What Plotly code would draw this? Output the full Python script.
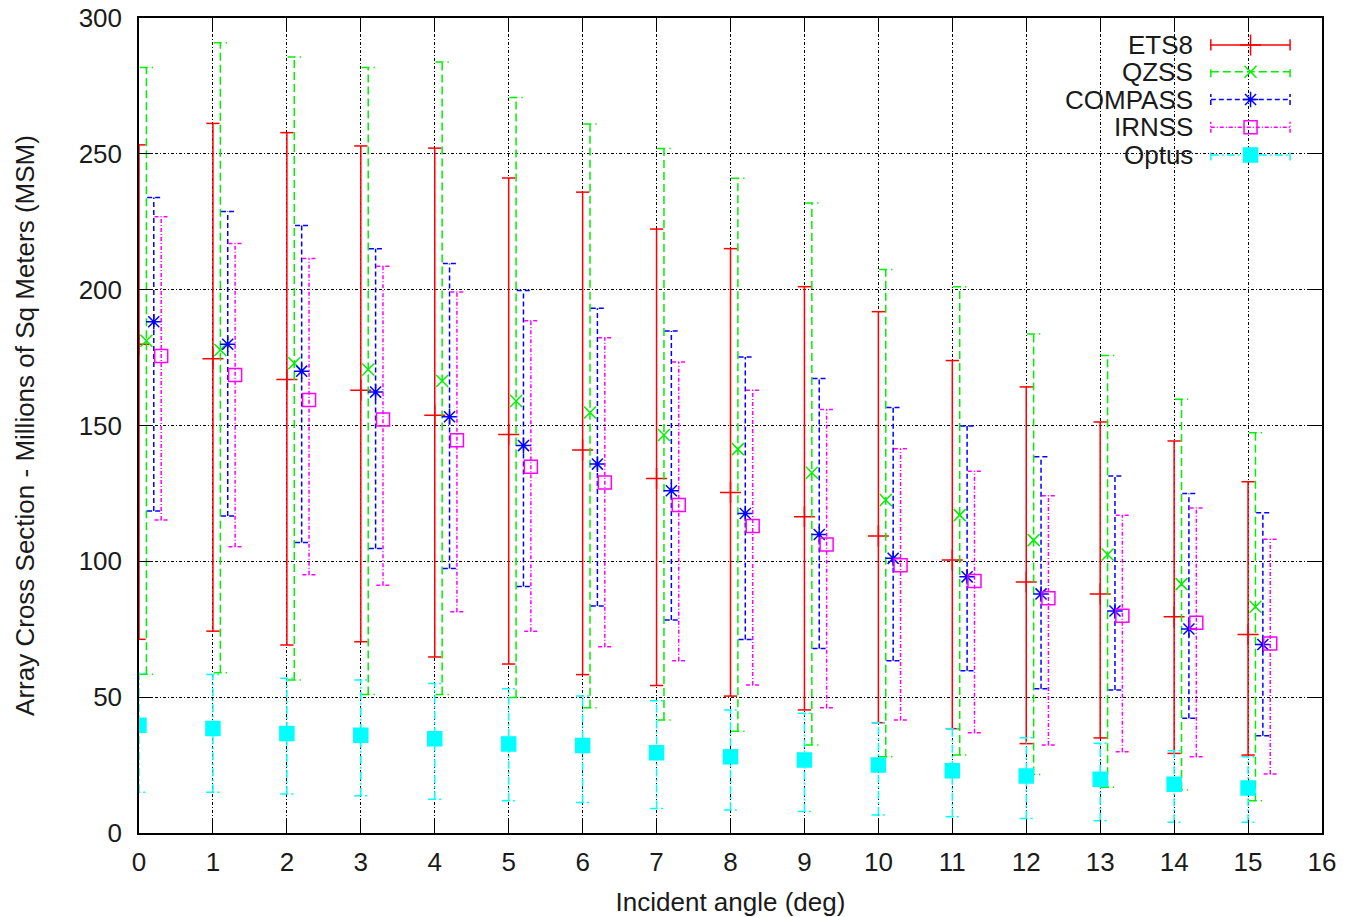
import plotly.graph_objects as go

# ---------------- data ----------------
angles = list(range(16))

ets8_mean = [179.9, 174.6, 166.9, 163.0, 153.8, 146.7, 141.0, 130.5, 125.3, 116.4, 109.3, 100.5, 92.4, 88.0, 79.6, 73.1]
ets8_low  = [71.3, 74.3, 69.2, 70.4, 64.8, 62.2, 58.3, 54.3, 50.4, 45.3, 40.6, 38.4, 32.9, 35.0, 29.3, 28.7]
ets8_high = [253.3, 261.2, 257.8, 252.9, 252.1, 241.1, 235.9, 222.3, 215.1, 201.1, 191.9, 173.9, 164.2, 151.3, 144.3, 129.3]

qzss_mean = [181.2, 177.8, 172.9, 170.6, 166.4, 159.0, 154.8, 146.5, 141.3, 132.6, 122.6, 117.0, 107.8, 102.5, 91.6, 83.3]
qzss_low  = [58.4, 59.0, 56.3, 51.0, 51.0, 49.9, 46.1, 41.6, 37.5, 32.4, 28.1, 28.7, 21.5, 16.8, 15.8, 11.9]
qzss_high = [281.8, 290.9, 285.6, 281.8, 283.8, 270.7, 261.0, 252.0, 241.0, 231.9, 207.4, 201.1, 183.7, 175.8, 159.7, 147.3]

compass_mean = [188.2, 179.9, 170.0, 162.3, 153.2, 142.6, 135.8, 126.0, 117.6, 109.9, 101.1, 94.3, 88.0, 81.7, 75.1, 69.4]
compass_low  = [118.5, 116.7, 106.9, 104.7, 97.4, 90.7, 83.6, 78.4, 71.2, 67.9, 63.4, 59.7, 53.1, 52.6, 42.2, 35.8]
compass_high = [233.9, 228.8, 223.6, 215.1, 209.6, 199.7, 193.2, 184.8, 175.2, 167.3, 156.6, 149.8, 138.5, 131.4, 125.0, 117.9]

irnss_mean = [175.6, 168.6, 159.4, 152.2, 144.6, 134.8, 129.0, 120.7, 113.0, 106.2, 98.6, 92.8, 86.4, 80.0, 77.4, 69.8]
irnss_low  = [115.2, 105.4, 95.1, 91.2, 81.4, 74.3, 68.6, 63.4, 54.5, 46.1, 41.6, 36.9, 32.4, 29.9, 28.1, 21.7]
irnss_high = [226.8, 217.0, 211.5, 208.6, 199.1, 188.6, 182.3, 173.4, 163.0, 155.9, 141.4, 133.2, 124.1, 117.0, 119.6, 108.1]

optus_mean = [39.7, 38.5, 36.6, 36.0, 34.7, 32.8, 32.2, 29.5, 28.1, 26.9, 25.0, 22.9, 21.0, 19.8, 17.9, 16.6]
optus_low  = [15.0, 15.0, 14.4, 13.7, 12.4, 11.9, 11.2, 9.0, 8.5, 7.9, 6.6, 6.0, 5.3, 4.5, 4.0, 4.0]
optus_high = [58.8, 58.3, 57.0, 56.3, 55.0, 53.1, 50.4, 48.7, 45.3, 44.1, 40.6, 38.4, 35.1, 33.0, 30.3, 28.1]

series_names = ["ETS8", "QZSS", "COMPASS", "IRNSS", "Optus"]
x_ticks = list(range(0, 17))
y_ticks = list(range(0, 301, 50))

# ---------------- styles ----------------
FONT = "Liberation Sans, Arial, Helvetica, sans-serif"
TXT = "#1a1a1a"
styles = [
    dict(name="ETS8", mean=ets8_mean, low=ets8_low, high=ets8_high, offset=0.0,
         color="#ff0000", dash="solid", symbol="cross-thin", size=15),
    dict(name="QZSS", mean=qzss_mean, low=qzss_low, high=qzss_high, offset=0.1,
         color="#00f000", dash="8px,4px", symbol="x-thin", size=12),
    dict(name="COMPASS", mean=compass_mean, low=compass_low, high=compass_high, offset=0.2,
         color="#0000ff", dash="5px,3px", symbol="asterisk", size=13),
    dict(name="IRNSS", mean=irnss_mean, low=irnss_low, high=irnss_high, offset=0.3,
         color="#ff00ff", dash="4px,2px,1px,2px", symbol="square-open", size=13),
    dict(name="Optus", mean=optus_mean, low=optus_low, high=optus_high, offset=0.0,
         color="#00ffff", dash="8px,3px,2px,3px", symbol="square", size=14),
]
CAP = 0.09  # half cap width in x units

fig = go.Figure()

for s in styles:
    xs, ys = [], []
    for a, lo, hi in zip(angles, s["low"], s["high"]):
        xc = a + s["offset"]
        xs += [xc, xc, None, xc - CAP, xc + CAP, None, xc - CAP, xc + CAP, None]
        ys += [lo, hi, None, lo, lo, None, hi, hi, None]
    fig.add_trace(go.Scatter(x=xs, y=ys, mode="lines", showlegend=False, hoverinfo="skip",
                             line=dict(color=s["color"], width=1.5, dash=s["dash"])))
    xm = [a + s["offset"] for a in angles]
    marker = dict(symbol=s["symbol"], size=s["size"], color=s["color"],
                  line=dict(color=s["color"], width=1.5))
    fig.add_trace(go.Scatter(x=xm, y=s["mean"], mode="markers", name=s["name"],
                             showlegend=False, marker=marker))

# ---------------- custom gnuplot-style key (overlay axes in 0..1 units) ----------------
key_text_x = 0.893
key_x0, key_x1, key_xc = 0.906, 0.973, 0.9396
key_rows = [0.967, 0.934, 0.900, 0.866, 0.832]
cap_h = 0.0068
for s, ky in zip(styles, key_rows):
    fig.add_trace(go.Scatter(
        x=[key_x0, key_x1, None, key_x0, key_x0, None, key_x1, key_x1],
        y=[ky, ky, None, ky - cap_h, ky + cap_h, None, ky - cap_h, ky + cap_h],
        mode="lines", xaxis="x2", yaxis="y2", showlegend=False, hoverinfo="skip",
        line=dict(color=s["color"], width=1.5, dash=s["dash"])))
    fig.add_trace(go.Scatter(
        x=[key_xc], y=[ky], mode="markers", xaxis="x2", yaxis="y2", showlegend=False,
        hoverinfo="skip",
        marker=dict(symbol=s["symbol"], size=s["size"], color=s["color"],
                    line=dict(color=s["color"], width=1.5))))
    fig.add_annotation(x=key_text_x, y=ky, xref="x2", yref="y2", text=s["name"],
                       showarrow=False, xanchor="right", yanchor="middle",
                       font=dict(family=FONT, size=26, color=TXT))

# white key box hiding the grid
fig.add_shape(type="rect", xref="paper", yref="paper", x0=0.7946, x1=0.987, y0=0.816, y1=1.0,
              fillcolor="white", line=dict(width=0), layer="between")

axis_common = dict(
    showline=True, linecolor="black", linewidth=1.5, mirror="ticks",
    ticks="inside", ticklen=13, tickwidth=1.3, tickcolor="black",
    showgrid=True, gridcolor="black", gridwidth=1, griddash="3px,2px,1px,2px",
    zeroline=False, automargin=False, ticklabeloverflow="allow",
    tickfont=dict(family=FONT, size=26, color=TXT),
)

# page body has an 8px default margin: compensate so the plot area lands where it should
fig.update_layout(
    width=1341, height=909,
    margin=dict(l=131, r=27, t=10, b=84),
    paper_bgcolor="white", plot_bgcolor="white",
    showlegend=False,
    font=dict(family=FONT, size=26, color=TXT),
    xaxis=dict(range=[0, 16], tickvals=x_ticks, ticklabelstandoff=5,
               title=dict(text="Incident angle (deg)", standoff=17,
                          font=dict(family=FONT, size=26, color=TXT)),
               **axis_common),
    yaxis=dict(range=[0, 300], tickvals=y_ticks, ticklabelstandoff=10,
               title=dict(text="Array Cross Section - Millions of Sq Meters (MSM)", standoff=37,
                          font=dict(family=FONT, size=26, color=TXT)),
               **axis_common),
    xaxis2=dict(overlaying="x", anchor="y2", range=[0, 1], visible=False, fixedrange=True),
    yaxis2=dict(overlaying="y", anchor="x2", range=[0, 1], visible=False, fixedrange=True),
)

fig.write_html("out.html")
